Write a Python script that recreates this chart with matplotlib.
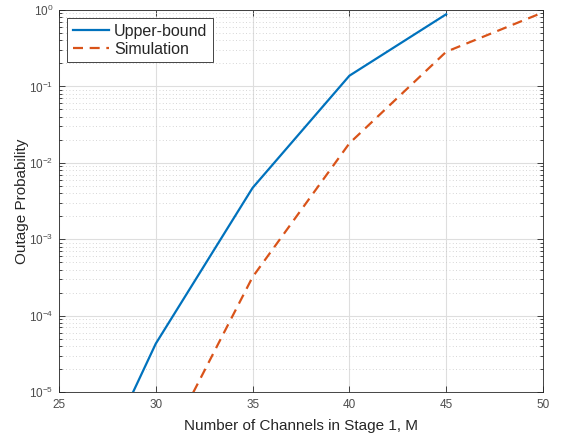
import matplotlib
matplotlib.use('agg')
import matplotlib.pyplot as plt
from matplotlib.ticker import LogLocator, NullFormatter
import numpy as np

plt.rcParams['font.family'] = ['Liberation Sans', 'DejaVu Sans']
plt.rcParams['mathtext.fontset'] = 'custom'
plt.rcParams['mathtext.rm'] = 'Liberation Sans'
plt.rcParams['mathtext.it'] = 'Liberation Sans'

# data
M_upper = [25, 30, 35, 40, 45]
p_upper = [8.5e-8, 4.3e-5, 4.7e-3, 0.138, 0.88]
M_sim = [30, 35, 40, 45, 50]
p_sim = [1.1e-6, 3.2e-4, 0.018, 0.284, 0.93]

xticks = [25, 30, 35, 40, 45, 50]
yticks = [1e-5, 1e-4, 1e-3, 1e-2, 1e-1, 1e0]
ytick_labels = ['$10^{-5}$', '$10^{-4}$', '$10^{-3}$', '$10^{-2}$', '$10^{-1}$', '$10^{0}$']

blue = '#0072BD'
orange = '#D95319'
txt = '#262626'
ticktxt = '#4d4d4d'

fig = plt.figure(figsize=(5.61, 4.36), dpi=100)
ax = fig.add_axes([59/561, 1 - 392/436, (543-59)/561, (392-10)/436])

ax.plot(M_upper, p_upper, color=blue, lw=1.6, label='Upper-bound')
ax.plot(M_sim, p_sim, color=orange, lw=1.6, ls=(0, (4.5, 3)), label='Simulation')

ax.set_yscale('log')
ax.set_xlim(25, 50)
ax.set_ylim(1e-5, 1)
ax.set_xticks(xticks)
ax.set_xticklabels([str(t) for t in xticks])
ax.set_yticks(yticks)
ax.set_yticklabels(ytick_labels)
ax.yaxis.set_minor_locator(LogLocator(base=10, subs=np.arange(2, 10), numticks=20))
ax.yaxis.set_minor_formatter(NullFormatter())

ax.grid(True, which='major', color='#dedede', lw=0.8, ls='-')
ax.grid(True, which='minor', axis='y', color='#c8c8c8', lw=0.6, ls=(0, (1, 3)))
ax.set_axisbelow(True)

ax.tick_params(which='both', direction='in', top=True, right=True, color=txt,
               labelcolor=ticktxt, labelsize=8.5, width=0.6)
ax.tick_params(which='major', length=4)
ax.tick_params(which='minor', length=2)
ax.tick_params(axis='x', pad=5)
ax.tick_params(axis='y', pad=4)
for s in ax.spines.values():
    s.set_color(txt)
    s.set_linewidth(0.6)

ax.set_xlabel('Number of Channels in Stage 1, M', fontsize=11, color=txt, labelpad=6)
ax.set_ylabel('Outage Probability', fontsize=11, color=txt, labelpad=0)

leg = ax.legend(loc='upper left', fontsize=11.5, fancybox=False, framealpha=1,
                edgecolor=txt, borderaxespad=0.5, handlelength=2.3,
                handletextpad=0.3, borderpad=0.35, labelspacing=0.2)
leg.get_frame().set_linewidth(0.6)
for t in leg.get_texts():
    t.set_color(txt)

fig.savefig('out.png', dpi=100)
